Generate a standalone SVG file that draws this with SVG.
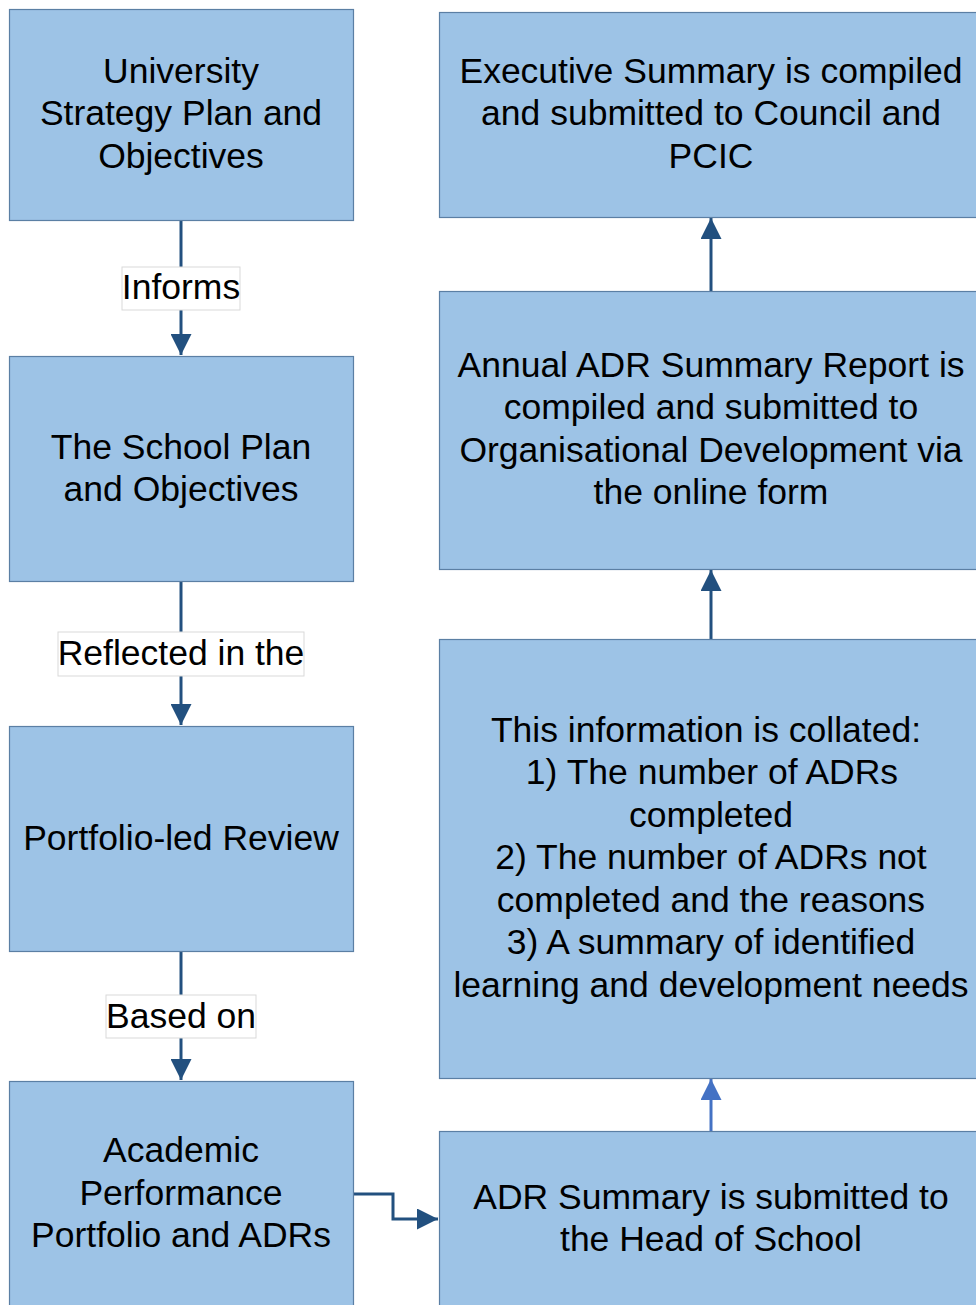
<svg xmlns="http://www.w3.org/2000/svg" width="976" height="1305" viewBox="0 0 976 1305">
<defs>
<style>
.box{fill:#9dc3e6;stroke:#5b7fa4;stroke-width:1.2}
.lbl{fill:#ffffff;stroke:#d9d9d9;stroke-width:1}
.t{font-family:"Liberation Sans",Arial,sans-serif;font-size:35.5px;fill:#000;text-anchor:middle}
.c{fill:none;stroke:#22507f;stroke-width:3}
.c2{fill:none;stroke:#4472c4;stroke-width:3}
</style>
<marker id="ah" viewBox="0 0 10 10" refX="10" refY="5" markerWidth="7" markerHeight="7" markerUnits="strokeWidth" orient="auto">
<path d="M0,0 L10,5 L0,10 z" fill="#22507f"/>
</marker>
<marker id="ah2" viewBox="0 0 10 10" refX="10" refY="5" markerWidth="7" markerHeight="7" markerUnits="strokeWidth" orient="auto">
<path d="M0,0 L10,5 L0,10 z" fill="#4472c4"/>
</marker>
</defs>
<rect width="976" height="1305" fill="#ffffff"/>

<g id="connectors">
<path class="c" d="M181,220 V355" marker-end="url(#ah)"/>
<path class="c" d="M181,581 V725" marker-end="url(#ah)"/>
<path class="c" d="M181,951 V1080" marker-end="url(#ah)"/>
<path class="c" d="M353,1194 H393 V1219 H438" marker-end="url(#ah)"/>
<path class="c" d="M711,291 V218" marker-end="url(#ah)"/>
<path class="c" d="M711,639 V570" marker-end="url(#ah)"/>
<path class="c2" d="M711,1131 V1079" marker-end="url(#ah2)"/>
</g>

<g id="label-informs">
<rect class="lbl" x="122" y="267" width="118" height="43"/>
<text class="t" x="181" y="298.5">Informs</text>
</g>
<g id="label-reflected">
<rect class="lbl" x="58" y="632" width="246" height="44"/>
<text class="t" x="181" y="664.5">Reflected in the</text>
</g>
<g id="label-based">
<rect class="lbl" x="106" y="995" width="150" height="43"/>
<text class="t" x="181" y="1027.5">Based on</text>
</g>

<g id="node-university">
<rect class="box" x="9.5" y="9.5" width="344" height="211"/>
<text class="t" x="181" y="82.5">University</text>
<text class="t" x="181" y="124.5">Strategy Plan and</text>
<text class="t" x="181" y="167.5">Objectives</text>
</g>
<g id="node-school">
<rect class="box" x="9.5" y="356.5" width="344" height="225"/>
<text class="t" x="181" y="458.5">The School Plan</text>
<text class="t" x="181" y="500.5">and Objectives</text>
</g>
<g id="node-portfolio">
<rect class="box" x="9.5" y="726.5" width="344" height="225"/>
<text class="t" x="181" y="849.5">Portfolio-led Review</text>
</g>
<g id="node-academic">
<rect class="box" x="9.5" y="1081.5" width="344" height="230"/>
<text class="t" x="181" y="1161.5">Academic</text>
<text class="t" x="181" y="1204.5">Performance</text>
<text class="t" x="181" y="1246.5">Portfolio and ADRs</text>
</g>

<g id="node-executive">
<rect class="box" x="439.5" y="12.5" width="550" height="205"/>
<text class="t" x="711" y="82.5">Executive Summary is compiled</text>
<text class="t" x="711" y="124.5">and submitted to Council and</text>
<text class="t" x="711" y="167.5">PCIC</text>
</g>
<g id="node-annual">
<rect class="box" x="439.5" y="291.5" width="550" height="278"/>
<text class="t" x="711" y="376.5">Annual ADR Summary Report is</text>
<text class="t" x="711" y="418.5">compiled and submitted to</text>
<text class="t" x="711" y="461.5">Organisational Development via</text>
<text class="t" x="711" y="503.5">the online form</text>
</g>
<g id="node-collated">
<rect class="box" x="439.5" y="639.5" width="550" height="439"/>
<text class="t" x="706" y="741.5">This information is collated:</text>
<text class="t" x="712" y="783.5">1) The number of ADRs</text>
<text class="t" x="711" y="826.5">completed</text>
<text class="t" x="711" y="868.5">2) The number of ADRs not</text>
<text class="t" x="711" y="911.5">completed and the reasons</text>
<text class="t" x="711" y="953.5">3) A summary of identified</text>
<text class="t" x="711" y="996.5">learning and development needs</text>
</g>
<g id="node-adrsummary">
<rect class="box" x="439.5" y="1131.5" width="550" height="180"/>
<text class="t" x="711" y="1208.5">ADR Summary is submitted to</text>
<text class="t" x="711" y="1250.5">the Head of School</text>
</g>
</svg>
